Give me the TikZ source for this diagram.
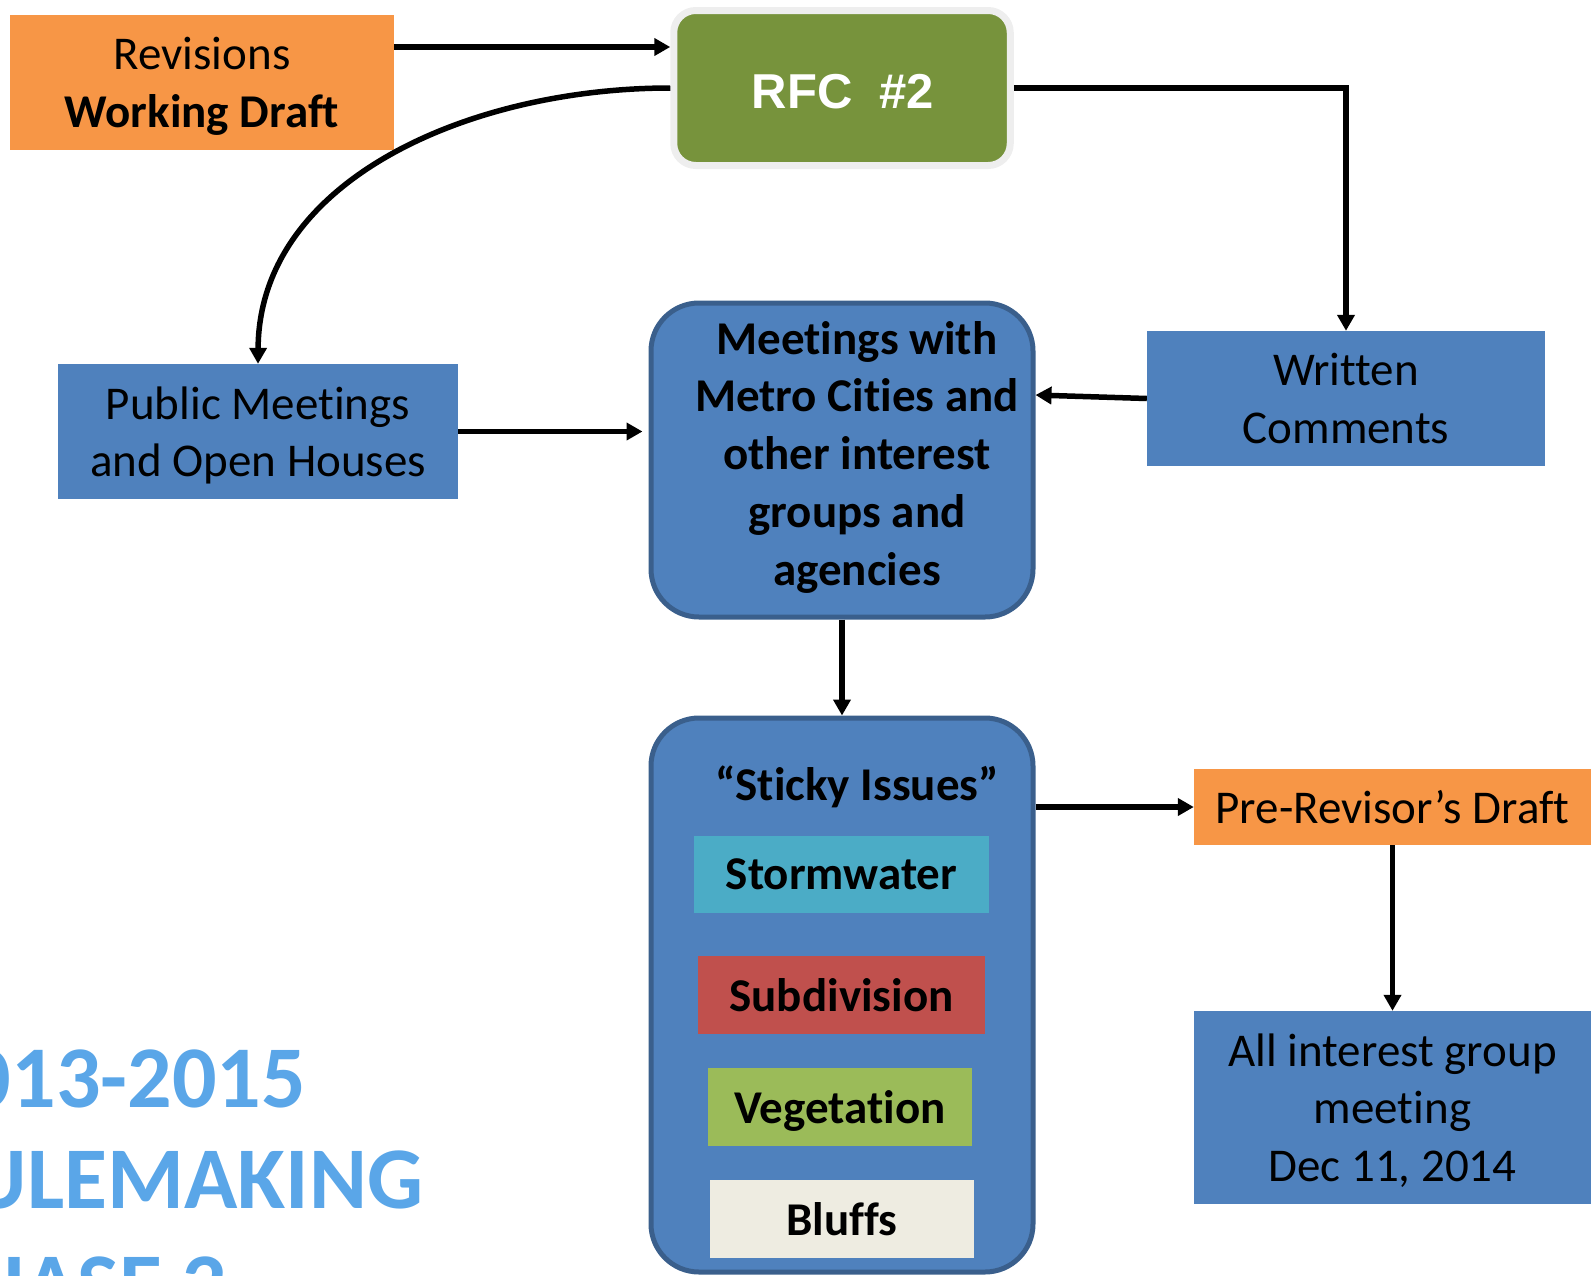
\documentclass[tikz,border=0pt]{standalone}
\usepackage{fontspec}
\setmainfont{Carlito}[Ligatures={NoCommon}]
\newfontfamily\arialfont{Liberation Sans}
\usetikzlibrary{arrows.meta,calc}
\definecolor{orng}{HTML}{F79646}
\definecolor{rfcgreen}{HTML}{77933C}
\definecolor{halo}{HTML}{EEEEEE}
\definecolor{boxblue}{HTML}{4F81BD}
\definecolor{edgeblue}{HTML}{3A5F8C}
\definecolor{stormc}{HTML}{4BACC6}
\definecolor{subdc}{HTML}{C0504D}
\definecolor{vegc}{HTML}{9BBB59}
\definecolor{bluffc}{HTML}{EEECE1}
\definecolor{titleblue}{HTML}{5AA6E8}
\begin{document}
\begin{tikzpicture}[x=1pt,y=-1pt,
  txt/.style={font=\fontsize{47}{57.5}\selectfont, align=center, text=black},
  flatbox/.style={rectangle, inner sep=0pt, txt, text depth=0pt},
  roundbox/.style={rectangle, rounded corners=48pt, fill=boxblue, draw=edgeblue, line width=5pt, inner sep=0pt},
  issue/.style={rectangle, inner sep=0pt, text depth=0pt, font=\fontsize{47}{57.5}\selectfont\bfseries, text=black},
  titletxt/.style={anchor=base west, inner sep=0pt, text=titleblue, font=\fontsize{88}{100}\selectfont\bfseries},
  arr/.style={line width=5.5pt, -{Triangle[length=16pt,width=17pt]}}]
\useasboundingbox (0,0) rectangle (1591,1275);

% title at lower left
\begin{scope}
\clip (0,0) rectangle (1591,1275);
\node[titletxt] (t1) at (-78,1107) {2013-2015};
\node[titletxt] (t2) at (-78,1208) {RULEMAKING};
\node[titletxt] (t3) at (-78,1314) {PHASE 2};
\end{scope}

% boxes
\node[flatbox, fill=orng, minimum width=384pt, minimum height=135pt] (rev) at (202,82.5)
  {Revisions\\\bfseries Working Draft};
\node[rectangle, rounded corners=22pt, fill=rfcgreen, draw=halo, line width=7pt,
  minimum width=336.5pt, minimum height=155pt, inner sep=0pt] (rfc) at (842,88) {};
\node[inner sep=0pt, font=\arialfont\fontsize{49}{60}\selectfont\bfseries, text=white] (rfctxt) at (843,92) {RFC~~\#2};
\node[flatbox, fill=boxblue, minimum width=400pt, minimum height=135pt] (pub) at (258,431.5)
  {Public Meetings\\and Open Houses};
\node[flatbox, fill=boxblue, minimum width=398pt, minimum height=135pt] (wri) at (1346,398.5)
  {Written\\Comments};
\node[roundbox, minimum width=382pt, minimum height=314pt] (meet) at (842,460) {};
\node[txt, font=\fontsize{47}{57.75}\selectfont\bfseries, inner sep=0pt] (meettxt) at (857,457)
  {Meetings with\\Metro Cities and\\other interest\\groups and\\agencies};
\node[roundbox, minimum width=382pt, minimum height=554pt] (sticky) at (842,995) {};
\node[anchor=base, inner sep=0pt, font=\fontsize{47}{57}\selectfont\bfseries] (stickytxt) at (857,800)
  {“Sticky Issues”};
\node[issue, fill=stormc, minimum width=295pt, minimum height=77pt] (storm) at (841.5,874.5) {Stormwater};
\node[issue, fill=subdc, minimum width=287pt, minimum height=78pt] (subd) at (841.5,995) {Subdivision};
\node[issue, fill=vegc, minimum width=264pt, minimum height=78pt] (veg) at (840,1107) {Vegetation};
\node[issue, fill=bluffc, minimum width=264pt, minimum height=78pt] (bluff) at (842,1219) {Bluffs};
\node[flatbox, fill=orng, minimum width=397pt, minimum height=76pt] (pre) at (1392.5,807)
  {Pre-Revisor’s Draft};
\node[flatbox, fill=boxblue, minimum width=397pt, minimum height=193pt] (all) at (1392.5,1107.5)
  {All interest group\\meeting\\Dec 11, 2014};

% connectors
\draw[arr] ([yshift=35.5pt]rev.east) -- ([yshift=35.5pt]rev.east -| rfc.west);
\draw[arr] (rfc.west) .. controls (470,88) and (259,180) .. (pub.north);
\draw[arr] (rfc.east) -| (wri.north);
\draw[arr] (pub.east) -- ([xshift=-6pt]pub.east -| meet.west);
\draw[arr] (wri.west) -- ([yshift=65pt]meet.east);
\draw[arr] (meet.south) -- (sticky.north);
\draw[arr] (sticky.east |- pre.west) -- (pre.west);
\draw[arr] (pre.south) -- (all.north);
\end{tikzpicture}
\end{document}
